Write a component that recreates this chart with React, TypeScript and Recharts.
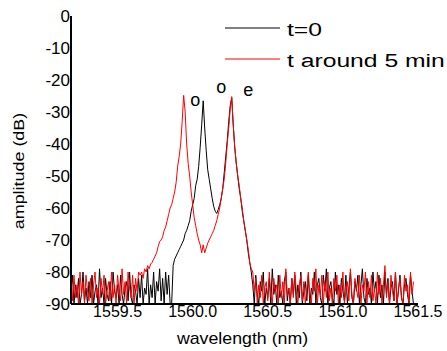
import React from 'react';
import { LineChart, Line, XAxis, YAxis, Legend, ReferenceDot } from 'recharts';

// Wavelength sampling of the spectrum (nm)
const WL_START = 1559.19;
const WL_STEP = 0.01;

const X_TICKS = [1559.5, 1560.0, 1560.5, 1561.0, 1561.5];
const Y_TICKS = [0, -10, -20, -30, -40, -50, -60, -70, -80, -90];

const SERIES_NAMES = ['t=0', 't around 5 min'];

// t around 5 min (red) amplitudes (dB)
const redLeftNoise = [
  -82, -89, -81, -88, -84, -90, -80, -87, -83, -90,
  -81, -86, -89, -82, -90, -84, -80, -88, -85, -90,
  -82, -87, -81, -90, -86, -83, -89, -80, -88, -84,
  -90, -81, -86, -89, -79, -87, -83, -90, -80, -85,
  -88, -81, -90, -82, -86, -80,
];
const redPeaks = [
  -81, -80, -82, -79, -80, -78, -79, -77.5, -77, -76,
  -75, -74, -72, -70.5, -70, -69, -67, -66, -64, -62,
  -60, -59, -57, -55, -52, -47, -44, -40, -33, -24.8,
  -30, -40, -46, -50, -55, -59, -63, -65.5, -68, -70,
  -71.5, -74, -71.5, -74, -72.5, -71, -70, -69, -68, -67,
  -65.5, -64, -62, -60, -57, -54, -51, -46, -40, -35,
  -29, -25.2, -34, -41, -46, -50, -53, -57, -60, -64,
  -67, -70, -73, -77, -79,
];
const redRightNoise = [
  -80, -86, -82, -90, -84, -88, -81, -90, -85, -83,
  -89, -80, -87, -90, -82, -86, -84, -90, -81, -88,
  -83, -90, -79, -87, -85, -90, -82, -88, -80, -86,
  -90, -84, -81, -89, -83, -90, -85, -80, -88, -90,
  -82, -86, -79, -90, -84, -87, -81, -90, -83, -88,
  -80, -89, -85, -90, -82, -86, -81, -90, -84, -88,
  -80, -90, -86, -83, -89, -79, -87, -90, -82, -85,
  -88, -81, -90, -84, -86, -80, -90, -83, -88, -81,
  -89, -85, -90, -80, -87, -82, -90, -84, -78, -88,
  -83, -90, -81, -86, -89, -80, -90, -85, -82, -88,
  -90, -81, -86, -84, -90, -80, -87, -83,
];

// t=0 (black) amplitudes (dB)
const blackLeftNoise = [
  -86, -81, -90, -84, -88, -82, -90, -87, -80, -89,
  -85, -90, -83, -88, -81, -90, -86, -84, -90, -79,
  -88, -85, -90, -82, -87, -89, -83, -90, -80, -86,
  -88, -84, -90, -81, -87, -90, -85, -83, -89, -80,
  -88, -90, -84, -86, -90, -82, -88, -81, -90, -85,
  -87, -79, -90, -84, -88, -80, -90, -83, -86, -79,
  -89, -82, -90, -80, -87, -81, -90, -90,
];
const blackPeaks = [
  -78, -76, -75, -74, -73, -72, -71, -70, -68, -67,
  -65.5, -64, -61, -59, -57, -53, -51, -47, -41, -34,
  -26.5, -35, -42, -48, -51, -54, -57, -59.5, -61, -61.7,
  -60.5, -59, -57, -54, -49, -44, -39, -33, -28, -25.6,
  -34, -41, -46, -50, -54, -57, -61, -64, -67, -70,
  -74, -77, -80,
];
const blackRightNoise = [
  -84, -90, -81, -87, -90, -83, -86, -80, -90, -85,
  -88, -82, -90, -79, -87, -84, -90, -81, -88, -86,
  -90, -83, -80, -89, -85, -90, -82, -87, -81, -90,
  -84, -88, -80, -90, -86, -83, -89, -81, -90, -85,
  -87, -80, -90, -84, -82, -88, -90, -81, -86, -79,
  -90, -85, -83, -88, -90, -80, -87, -84, -90, -82,
  -86, -89, -81, -90, -85, -80, -88, -90, -83, -86,
  -81, -90, -84, -79, -88, -90, -82, -87, -85, -90,
  -80, -86, -83, -90, -81, -88, -84, -90, -80, -87,
  -82, -90, -85, -83, -89, -80, -90, -86, -81, -88,
  -90, -84, -82, -87, -90, -81, -86, -90,
];

// Mode annotations (wavelength nm, amplitude dB)
const ANNOTATION_TEXT = ['o', 'o', 'e'];
const ANNOTATION_WL = [1560.017, 1560.19, 1560.37];
const ANNOTATION_DB = [-26.3, -22.3, -23.2];

const redTrace = [...redLeftNoise, ...redPeaks, ...redRightNoise];
const blackTrace = [...blackLeftNoise, ...blackPeaks, ...blackRightNoise];

const data = redTrace.map((r, i) => ({
  wl: +(WL_START + i * WL_STEP).toFixed(3),
  t0: blackTrace[i],
  t5: r,
}));

const FONT = 'Liberation Sans, Arial, Helvetica, sans-serif';

const renderLegend = (props: any) => {
  const payload = [...(props.payload || [])].sort(
    (a: any, b: any) => SERIES_NAMES.indexOf(a.value) - SERIES_NAMES.indexOf(b.value)
  );
  return (
    <svg width={225} height={80} style={{ display: 'block', overflow: 'visible' }}>
      {payload.map((entry: any, idx: number) => {
        const ly = 28 + idx * 31;
        return (
          <g key={idx}>
            <line x1={3} x2={58} y1={ly} y2={ly} stroke={entry.color} strokeWidth={1} />
            <text
              transform={`translate(65,${ly + 8}) scale(1.3,1)`}
              fontSize={19}
              fontFamily={FONT}
              fill="#000"
            >
              {entry.value}
            </text>
          </g>
        );
      })}
    </svg>
  );
};

const renderYLabel = (props: any) => {
  const vb = props.viewBox || { x: 0, y: 0, width: 0, height: 0 };
  const cy = vb.y + vb.height / 2 + 11;
  return (
    <text
      transform={`translate(19,${cy}) rotate(-90) scale(1.28,1)`}
      textAnchor="middle"
      dominantBaseline="central"
      fontSize={14}
      fontFamily={FONT}
      fill="#000"
    >
      amplitude (dB)
    </text>
  );
};

const renderXLabel = (props: any) => {
  const vb = props.viewBox || { x: 0, y: 0, width: 0, height: 0 };
  const cx = vb.x + vb.width / 2 - 2;
  return (
    <text
      transform={`translate(${cx},344) scale(1.11,1)`}
      textAnchor="middle"
      fontSize={16}
      fontFamily={FONT}
      fill="#000"
    >
      wavelength (nm)
    </text>
  );
};

export default function App() {
  return (
    <div style={{ position: 'absolute', left: 0, top: 0, width: 447, height: 351, fontFamily: FONT, background: '#fff' }}>
      <LineChart width={447} height={351} data={data} margin={{ top: 16, right: 29, bottom: 0, left: 0 }}>
        <XAxis
          dataKey="wl"
          type="number"
          domain={[1559.19, 1561.5]}
          ticks={X_TICKS}
          tickFormatter={(v: number) => v.toFixed(1)}
          allowDataOverflow
          height={47}
          tickLine={false}
          tickSize={0}
          tickMargin={2}
          axisLine={{ stroke: '#000', strokeWidth: 2 }}
          tick={{ fill: '#000', fontSize: 16, fontFamily: FONT }}
          interval={0}
          label={renderXLabel}
        />
        <YAxis
          type="number"
          domain={[-90, 0]}
          ticks={Y_TICKS}
          allowDataOverflow
          width={71}
          tickLine={false}
          tickSize={0}
          tickMargin={1}
          axisLine={{ stroke: '#000', strokeWidth: 2 }}
          tick={{ fill: '#000', fontSize: 17, fontFamily: FONT }}
          interval={0}
          label={renderYLabel}
        />
        <Line
          type="linear"
          dataKey="t0"
          name={SERIES_NAMES[0]}
          stroke="#000000"
          strokeWidth={1}
          dot={false}
          isAnimationActive={false}
        />
        <Line
          type="linear"
          dataKey="t5"
          name={SERIES_NAMES[1]}
          stroke="#ff0000"
          strokeWidth={1}
          dot={false}
          isAnimationActive={false}
        />
        {ANNOTATION_TEXT.map((t, i) => (
          <ReferenceDot
            key={i}
            x={ANNOTATION_WL[i]}
            y={ANNOTATION_DB[i]}
            r={0}
            ifOverflow="visible"
            shape={(p: any) => (
              <text
                x={p.cx}
                y={p.cy}
                textAnchor="middle"
                dominantBaseline="central"
                fontSize={18}
                fontFamily={FONT}
                fill="#000"
              >
                {t}
              </text>
            )}
          />
        ))}
        <Legend
          content={renderLegend}
          layout="vertical"
          align="center"
          verticalAlign="middle"
          wrapperStyle={{ position: 'absolute', top: 0, left: 222, width: 225, height: 80 }}
        />
      </LineChart>
    </div>
  );
}
